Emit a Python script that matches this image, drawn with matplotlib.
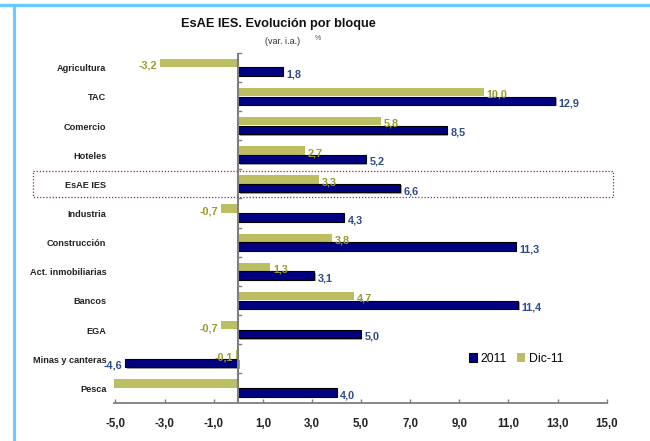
import matplotlib.pyplot as plt
import matplotlib.patheffects as pe
import matplotlib.transforms as mtransforms
from matplotlib.patches import Rectangle
from matplotlib.lines import Line2D
import numpy as np

# Bloques y variaciones (%)
categorias = ['Agricultura', 'TAC', 'Comercio', 'Hoteles', 'EsAE IES', 'Industria',
              'Construcción', 'Act. inmobiliarias', 'Bancos', 'EGA',
              'Minas y canteras', 'Pesca']
dic11 = [-3.2, 10.0, 5.8, 2.7, 3.3, -0.7, 3.8, 1.3, 4.7, -0.7, -0.1, -6.0]
anual2011 = [1.8, 12.9, 8.5, 5.2, 6.6, 4.3, 11.3, 3.1, 11.4, 5.0, -4.6, 4.0]
xticks = [-5, -3, -1, 1, 3, 5, 7, 9, 11, 13, 15]

# etiquetas que se muestran (Pesca Dic-11 queda fuera de escala)
mostrar_dic = [True] * 11 + [False]

OLIVA = '#BDBD62'
OLIVA_TXT = '#9A9A2E'
AZUL = '#000080'
AZUL_TXT = '#2E4A8A'
GRIS = '#7F7F7F'

plt.rcParams['font.family'] = ['Liberation Sans', 'DejaVu Sans']

def fmt(v):
    return f'{v:.1f}'.replace('.', ',')

fig = plt.figure(figsize=(6.5, 4.41), dpi=100)
ax = fig.add_axes([0.1758, 0.0873, 0.7576, 0.7932])

y = np.arange(len(categorias))
h = 0.29
ax.barh(y - 0.15, dic11, height=h, color=OLIVA, edgecolor='none', zorder=2)
sombra = [pe.SimplePatchShadow(offset=(1, -1), shadow_rgbFace='#909090', alpha=0.8), pe.Normal()]
ax.barh(y + 0.15, anual2011, height=h, color=AZUL, edgecolor='black', linewidth=0.8,
        zorder=3, path_effects=sombra)

ax.set_xlim(-5.05, 15)
ax.set_ylim(len(categorias) - 0.5, -0.5)

# valores al final de cada barra
for i in range(len(categorias)):
    v = dic11[i]
    if mostrar_dic[i]:
        ax.annotate(fmt(v), (v, y[i] - 0.15), xytext=(2 if v >= 0 else -2, -2),
                    textcoords='offset points', ha='left' if v >= 0 else 'right',
                    va='center', fontsize=7.8, fontweight='bold', color=OLIVA_TXT, zorder=4)
    v = anual2011[i]
    ax.annotate(fmt(v), (v, y[i] + 0.15), xytext=(2.5 if v >= 0 else -2, -2),
                textcoords='offset points', ha='left' if v >= 0 else 'right',
                va='center', fontsize=7.8, fontweight='bold', color=AZUL_TXT, zorder=4)

# ejes: solo la línea del cero y la inferior
for s in ['top', 'right', 'left']:
    ax.spines[s].set_visible(False)
ax.spines['bottom'].set_color(GRIS)
ax.spines['bottom'].set_linewidth(1.3)
ax.axvline(0, color=GRIS, linewidth=1.5, zorder=5)

ax.set_xticks(xticks)
ax.set_xticklabels([fmt(t) for t in xticks])
ax.tick_params(axis='x', direction='in', length=3, color=GRIS, width=1, pad=11.5,
               labelsize=8.3, labelcolor='#222222')
for lbl in ax.get_xticklabels():
    lbl.set_fontweight('bold')

ax.set_yticks([])
bl = mtransforms.blended_transform_factory(ax.transData, ax.transData)
for b in np.arange(len(categorias)) - 0.5:
    ax.plot([0, 0.12], [b, b], color=GRIS, linewidth=1, transform=bl, zorder=5, clip_on=False)

for i, c in enumerate(categorias):
    ax.text(-0.016, y[i] + 0.05, c, transform=ax.get_yaxis_transform(), ha='right',
            va='center', fontsize=6.6, fontweight='bold', color='#222222')

# recuadro de puntos del total
tb = mtransforms.blended_transform_factory(fig.transFigure, ax.transData)
fig.patches.append(Rectangle((0.0508, 4 - 0.43), 0.892, 0.88, transform=tb, fill=False,
                             edgecolor='#A0203A', linestyle=(0, (1, 1.5)), linewidth=0.9))

# leyenda
leg_h = [Rectangle((0, 0), 1, 1, facecolor=AZUL, edgecolor='black', linewidth=0.8),
         Rectangle((0, 0), 1, 1, facecolor=OLIVA, edgecolor='none')]
ax.legend(leg_h, ['2011', 'Dic-11'], loc='center left', bbox_to_anchor=(0.707, 0.125),
          ncol=2, frameon=False, fontsize=8.8, handlelength=0.7, handleheight=0.7,
          handletextpad=0.3, columnspacing=0.8, borderpad=0)

# títulos
fig.text(0.428, 0.945, 'EsAE IES. Evolución por bloque', ha='center', va='center',
         fontsize=9.2, fontweight='bold', color='#111111')
fig.text(0.435, 0.905, '(var. i.a.)', ha='center', va='center', fontsize=6.5, color='#333333')
fig.text(0.489, 0.912, '%', ha='center', va='center', fontsize=5, color='#555555')

# marco azul claro
fig.add_artist(Line2D([0, 1], [0.989, 0.989], color='#66CCFF', linewidth=2.5, transform=fig.transFigure))
fig.add_artist(Line2D([0.022, 0.022], [0, 0.989], color='#66CCFF', linewidth=2.2, transform=fig.transFigure))

fig.savefig('out.png', dpi=100)
